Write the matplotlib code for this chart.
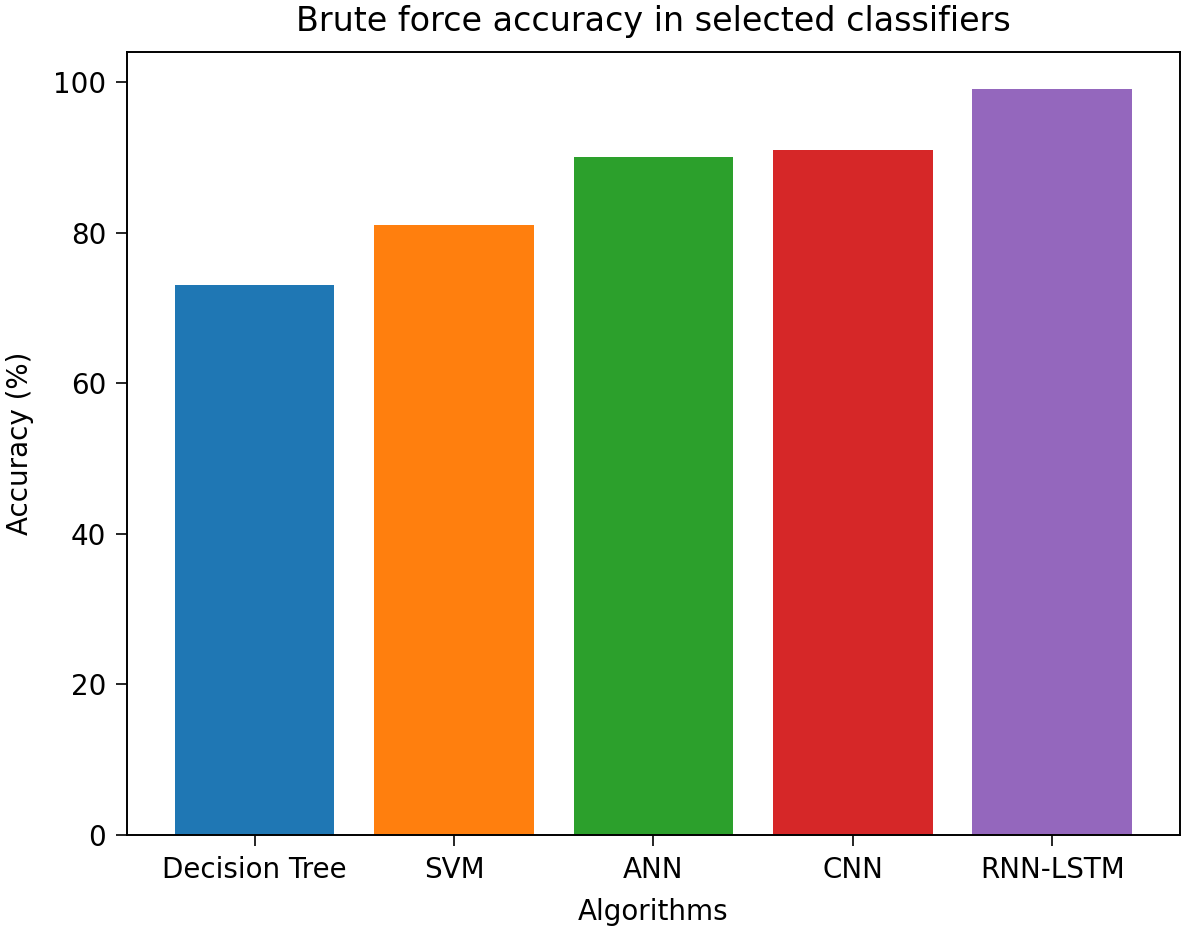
import matplotlib
matplotlib.use("Agg")
import matplotlib.pyplot as plt

# accuracy values
algorithms = ["Decision Tree", "SVM", "ANN", "CNN", "RNN-LSTM"]
accuracy = [73, 81, 90, 91, 99]
colors = ["#1f77b4", "#ff7f0e", "#2ca02c", "#d62728", "#9467bd"]

fig = plt.figure(figsize=(11.87, 9.31), dpi=100)
ax = fig.add_subplot(111)
fig.subplots_adjust(left=0.107, right=0.994, top=0.944, bottom=0.103)

ax.bar(algorithms, accuracy, color=colors)

ax.set_title("Brute force accuracy in selected classifiers", fontsize=24, pad=15)
ax.set_xlabel("Algorithms", fontsize=20, labelpad=10)
ax.set_ylabel("Accuracy (%)", fontsize=20, labelpad=14)
ax.tick_params(axis="both", labelsize=20, length=8, width=1.2, pad=7)
for spine in ax.spines.values():
    spine.set_linewidth(1.4)

plt.savefig("out.png", dpi=100)
